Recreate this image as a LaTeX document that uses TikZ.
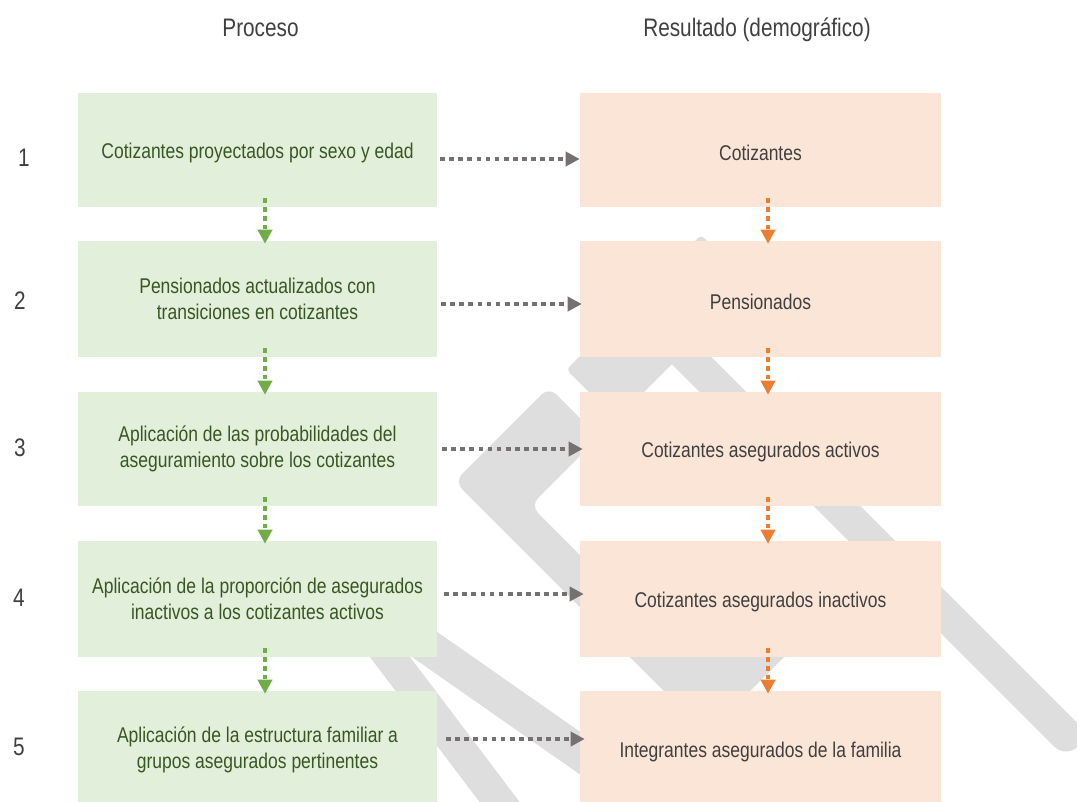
\documentclass[tikz,border=0pt]{standalone}
\usepackage{fontspec}
\setmainfont{Liberation Sans}[FakeStretch=0.82]
\usetikzlibrary{arrows.meta,calc}
\definecolor{gfill}{RGB}{226,239,218}
\definecolor{ofill}{RGB}{251,229,214}
\definecolor{gtext}{RGB}{56,87,35}
\definecolor{dtext}{RGB}{64,64,64}
\definecolor{agray}{RGB}{118,113,113}
\definecolor{agreen}{RGB}{112,173,71}
\definecolor{aorange}{RGB}{237,125,49}
\definecolor{wmgray}{RGB}{222,222,222}
\begin{document}
\begin{tikzpicture}[x=0.75pt,y=-0.75pt,
  boxtext/.style={inner sep=0pt, align=center, font=\fontsize{16}{19.3}\selectfont,
    execute at begin node={\rule{0pt}{16pt}}},
  twoline/.style={execute at begin node={\rule{0pt}{20pt}}},
  gbox/.style={boxtext, fill=gfill, minimum width=269.25pt, text=gtext},
  obox/.style={boxtext, fill=ofill, minimum width=270.75pt, text=dtext},
  hdr/.style={text=dtext, font=\fontsize{19}{22}\selectfont, anchor=base, inner sep=0pt},
  tipstyle/.style={-{Triangle[length=10.5pt,width=10.5pt]}},
  hgray/.style={draw=agray, line width=3.3pt, dash pattern=on 3.6pt off 3.2pt, tipstyle},
  vgreen/.style={draw=agreen, line width=3.2pt, dash pattern=on 3.3pt off 3.4pt, tipstyle},
  vorange/.style={draw=aorange, line width=3.2pt, dash pattern=on 3.3pt off 3.4pt, tipstyle},
  wm/.style={fill=wmgray, draw=none},
  wmline/.style={draw=wmgray, line cap=round}
]
\useasboundingbox (0,0) rectangle (1077,801);
\clip (0,0) rectangle (1077,801);
\fill[white] (0,0) rectangle (1077,801);

% watermark
\fill[wm, rounded corners=3pt] (701,235) -- (751,285) -- (616.5,419.5) -- (566.5,369.5) -- cycle;
\fill[wm, rounded corners=8pt] (454.5,481.5) -- (549,387) -- (599,437) -- (530.5,505.5)
  -- (681.5,656.5) -- (744,594) -- (795.5,645.5) -- (707,734) -- cycle;
\draw[wmline, line width=24.75pt] (671,340) -- (1066,735);
\draw[wmline, line width=26.25pt] (331,579) -- (700,837);
\draw[wmline, line width=24pt] (331,579) -- (520,829);

% headers
\node[hdr] (hp) at (260.5,36) {Proceso};
\node[hdr] (hr) at (757,36) {Resultado (demográfico)};

% row numbers
\node[hdr] (n1) at (24,166) {1};
\node[hdr] (n2) at (20,309) {2};
\node[hdr] (n3) at (20,456) {3};
\node[hdr] (n4) at (19,606) {4};
\node[hdr] (n5) at (19,755) {5};

% boxes
\node[gbox, minimum height=85.5pt] (g1) at (257.5,150) {Cotizantes proyectados por sexo y edad};
\node[gbox, twoline, minimum height=87pt] (g2) at (257.5,299) {Pensionados actualizados con\\transiciones en cotizantes};
\node[gbox, twoline, minimum height=85.5pt] (g3) at (257.5,449) {Aplicación de las probabilidades del\\aseguramiento sobre los cotizantes};
\node[gbox, twoline, minimum height=87pt] (g4) at (257.5,599) {Aplicación de la proporción de asegurados\\inactivos a los cotizantes activos};
\node[gbox, twoline, minimum height=87.75pt] (g5) at (257.5,749.5) {Aplicación de la estructura familiar a\\grupos asegurados pertinentes};

\node[obox, minimum height=85.5pt] (o1) at (760.5,150) {Cotizantes};
\node[obox, minimum height=87pt] (o2) at (760.5,299) {Pensionados};
\node[obox, minimum height=85.5pt] (o3) at (760.5,449) {Cotizantes asegurados activos};
\node[obox, minimum height=87pt] (o4) at (760.5,599) {Cotizantes asegurados inactivos};
\node[obox, minimum height=87.75pt] (o5) at (760.5,749.5) {Integrantes asegurados de la familia};

% horizontal arrows
\draw[hgray] ($(g1.east)+(3,9)$) -- ($(o1.west)+(0,9)$);
\draw[hgray] ($(g2.east)+(4,5)$) -- ($(o2.west)+(2,5)$);
\draw[hgray] ($(g3.east)+(5,0)$) -- ($(o3.west)+(3,0)$);
\draw[hgray] ($(g4.east)+(7,-5)$) -- ($(o4.west)+(4,-5)$);
\draw[hgray] ($(g5.east)+(9,-10.5)$) -- ($(o5.west)+(5,-10.5)$);

% vertical arrows
\draw[vgreen] ($(g1.south)+(7.5,-9)$) -- ($(g2.north)+(7.5,3)$);
\draw[vgreen] ($(g2.south)+(7.5,-9)$) -- ($(g3.north)+(7.5,3)$);
\draw[vgreen] ($(g3.south)+(7.5,-9)$) -- ($(g4.north)+(7.5,3)$);
\draw[vgreen] ($(g4.south)+(7.5,-9)$) -- ($(g5.north)+(7.5,3)$);

\draw[vorange] ($(o1.south)+(7.5,-9)$) -- ($(o2.north)+(7.5,3)$);
\draw[vorange] ($(o2.south)+(7.5,-9)$) -- ($(o3.north)+(7.5,3)$);
\draw[vorange] ($(o3.south)+(7.5,-9)$) -- ($(o4.north)+(7.5,3)$);
\draw[vorange] ($(o4.south)+(7.5,-9)$) -- ($(o5.north)+(7.5,3)$);
\end{tikzpicture}
\end{document}
